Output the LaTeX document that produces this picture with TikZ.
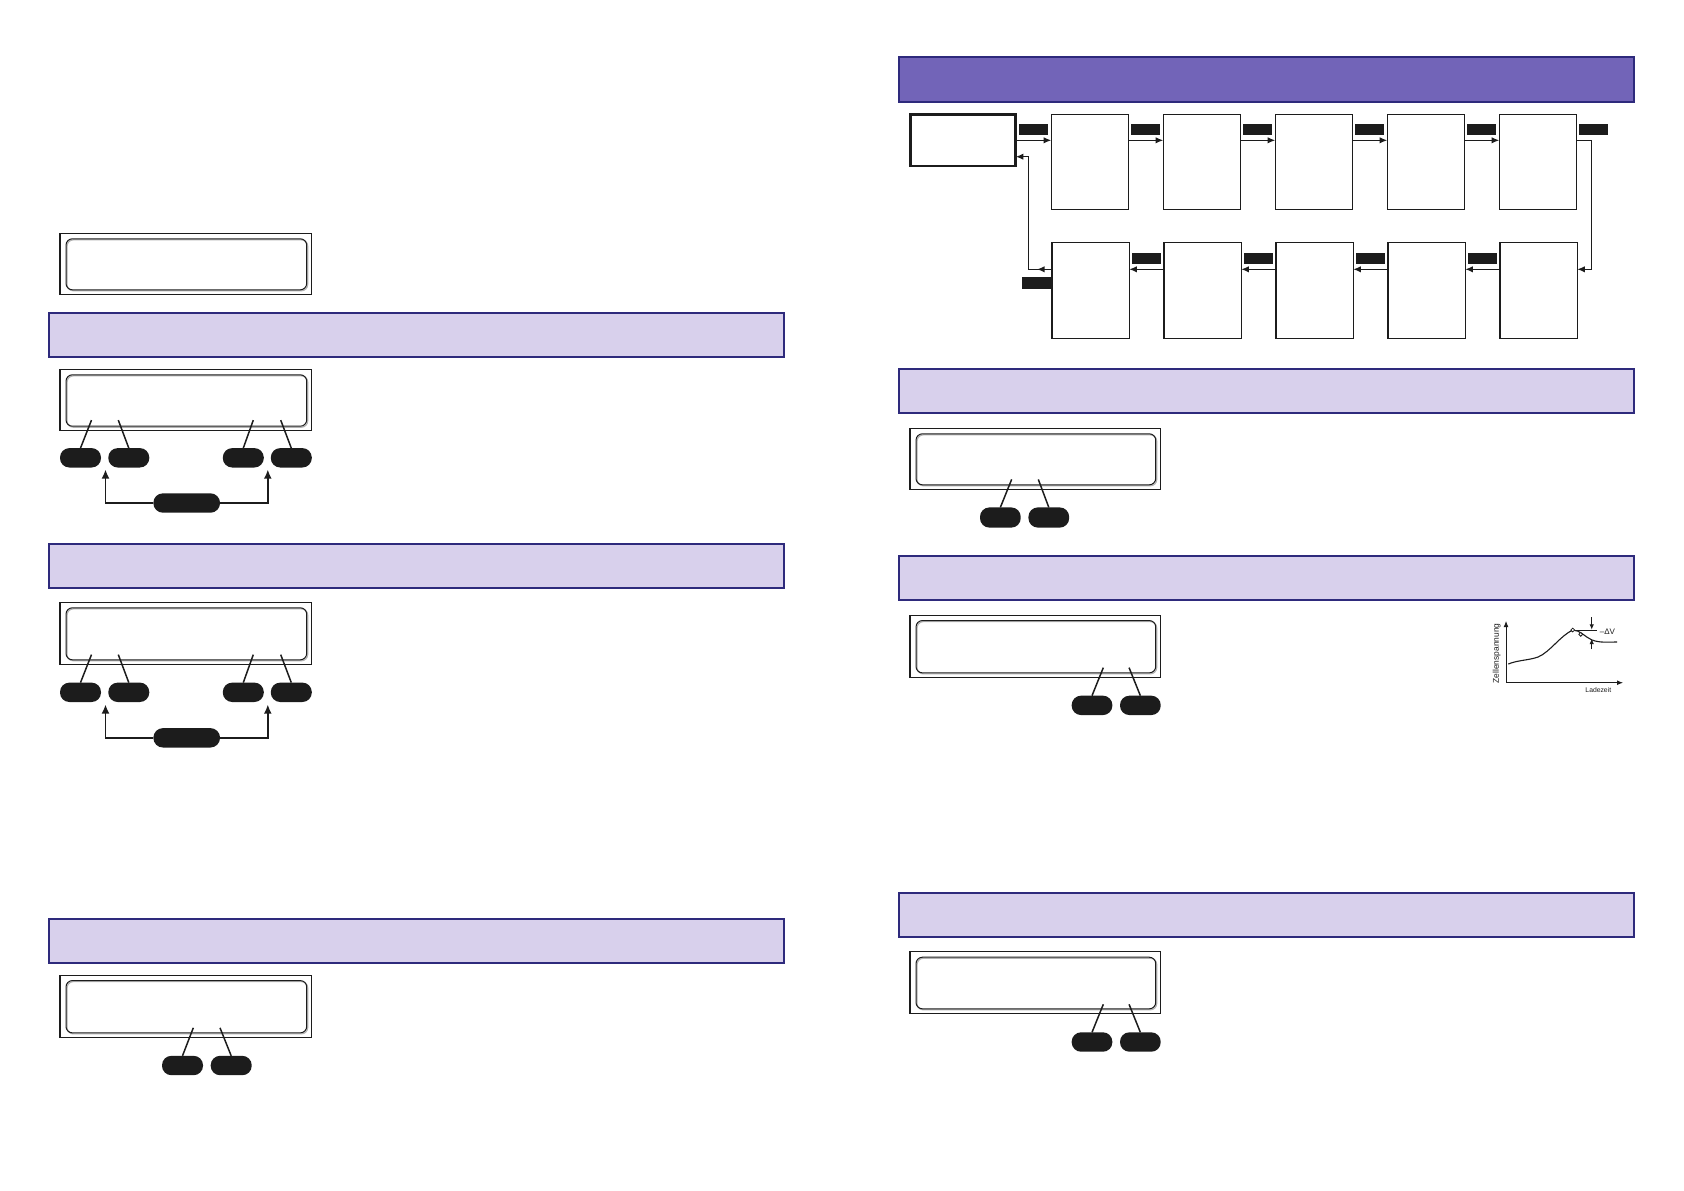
\documentclass[tikz,border=0pt]{standalone}
\usepackage{fontspec}
\setmainfont{Liberation Sans}
\usetikzlibrary{arrows.meta,calc}
\definecolor{navy}{HTML}{2E2A7C}
\definecolor{lav}{HTML}{D8D0EC}
\definecolor{dhdr}{HTML}{7264B8}
\definecolor{ink}{HTML}{1C1C1C}
\newcommand\lcdin[1]{%
  \draw[gray!60,line width=0.6pt,rounded corners=3.2pt] ([shift={(7,6.5)}]#1.north west) rectangle ([shift={(-4,-3.5)}]#1.south east);
  \draw[ink,line width=0.5pt,rounded corners=3.2pt] ([shift={(6,5.5)}]#1.north west) rectangle ([shift={(-5,-4.5)}]#1.south east);}
\begin{document}
\begin{tikzpicture}[x=0.5pt,y=-0.5pt,
  sz/.style 2 args={minimum width={#1*0.5pt},minimum height={#2*0.5pt}},
  hdr/.style={draw=navy,line width=1pt,fill=lav,inner sep=0,outer sep=0},
  dhdrbox/.style={draw=navy,line width=1pt,fill=dhdr,inner sep=0,outer sep=0},
  lcd/.style={draw=ink,line width=0.55pt,fill=white,inner sep=0,outer sep=0},
  pill/.style={fill=ink,rounded corners=4.7pt,inner sep=0,outer sep=0,sz={41}{19.4}},
  widepill/.style={fill=ink,rounded corners=4.8pt,inner sep=0,outer sep=0,sz={66.7}{19.4}},
  flowbox/.style={draw=ink,line width=0.65pt,inner sep=0,outer sep=0},
  startbox/.style={draw=ink,line width=1.3pt,inner sep=0,outer sep=0},
  tag/.style={fill=ink,inner sep=0,outer sep=0,sz={29}{10.7}},
  lead/.style={draw=ink,line width=0.75pt},
  arr/.style={draw=ink,line width=0.7pt,-{Latex[length=3.8pt,width=3.2pt]}},
  bigarr/.style={draw=ink,line width=0.8pt,-{Latex[length=4.6pt,width=4pt]}},
  charttext/.style={inner sep=0,text=ink}
]
\fill[white] (0,0) rectangle (1684,1190);
\useasboundingbox (0,0) rectangle (1684,1190);

% ---------------- left column ----------------
\node[lcd,sz={251.7}{61}] (L0) at (185.85,263.8) {};
\lcdin{L0}

\node[hdr,sz={735}{44}] (H1) at (416.8,335.3) {};
\node[lcd,sz={251.7}{61.4}] (L1) at (185.85,400) {};
\lcdin{L1}
\node[pill] (p1a) at (80.5,457.8) {};
\node[pill] (p1b) at (128.8,457.8) {};
\node[pill] (p1c) at (243.3,457.8) {};
\node[pill] (p1d) at (291.3,457.8) {};
\draw[lead] (p1a.north) -- ++(11,-28);
\draw[lead] (p1b.north) -- ++(-10.5,-28);
\draw[lead] (p1c.north) -- ++(10,-28);
\draw[lead] (p1d.north) -- ++(-10.6,-28);
\node[widepill] (c1) at (186.7,503) {};
\coordinate (c1l) at (105.5,469.5);
\coordinate (c1r) at (267.8,469.5);
\draw[bigarr] (c1.west) -| (c1l);
\draw[bigarr] (c1.east) -| (c1r);

\node[hdr,sz={735}{44.3}] (H2) at (416.8,566.2) {};
\node[lcd,sz={251.7}{62}] (L2) at (185.85,633.3) {};
\lcdin{L2}
\node[pill] (p2a) at (80.5,692.3) {};
\node[pill] (p2b) at (128.8,692.3) {};
\node[pill] (p2c) at (243.3,692.3) {};
\node[pill] (p2d) at (291.3,692.3) {};
\draw[lead] (p2a.north) -- ++(11,-28);
\draw[lead] (p2b.north) -- ++(-10.5,-28);
\draw[lead] (p2c.north) -- ++(10,-28);
\draw[lead] (p2d.north) -- ++(-10.6,-28);
\node[widepill] (c2) at (186.7,737.8) {};
\coordinate (c2l) at (105.5,704.5);
\coordinate (c2r) at (267.8,704.5);
\draw[bigarr] (c2.west) -| (c2l);
\draw[bigarr] (c2.east) -| (c2r);

\node[hdr,sz={735}{44.5}] (H3) at (416.8,940.8) {};
\node[lcd,sz={251.7}{62.3}] (L3) at (185.85,1006.2) {};
\lcdin{L3}
\node[pill] (p3a) at (182.5,1065.5) {};
\node[pill] (p3b) at (231.2,1065.5) {};
\draw[lead] (p3a.north) -- ++(10.8,-28);
\draw[lead] (p3b.north) -- ++(-11.2,-28);

% ---------------- right column ----------------
\node[dhdrbox,sz={734.7}{44.4}] (DH) at (1266.65,79.5) {};

\node[startbox,sz={105}{51.7}] (S) at (963.2,140.15) {};
\foreach \i in {1,...,5}{
  \node[flowbox,sz={77.4}{95}] (T\i) at ({1090+112*(\i-1)},161.8) {};
  \node[flowbox,sz={77.2}{96}] (B\i) at ({1090.6+112*(\i-1)},290.3) {};
}
\node[tag] (ta0) at (1033.3,129.35) {};
\foreach \i in {1,...,5}{
  \node[tag] (ta\i) at ({1145.7+112*(\i-1)},129.35) {};
}
\foreach \i in {1,...,4}{
  \node[tag] (tb\i) at ({1146.3+112*(\i-1)},258.35) {};
}
\node[tag,sz={28.4}{11.4}] (tb0) at (1036.5,283) {};

\coordinate (ya) at (0,140.3);
\coordinate (yb) at (0,269.3);
\draw[arr] (S.east |- ya) -- (T1.west |- ya);
\foreach \i/\j in {1/2,2/3,3/4,4/5}{
  \draw[arr] (T\i.east |- ya) -- (T\j.west |- ya);
}
\coordinate (r1) at (1591.7,140.3);
\coordinate (r2) at (1591.7,269.3);
\draw[arr] (T5.east |- ya) -- (r1) -- (r2) -- (B5.east |- yb);
\foreach \i/\j in {5/4,4/3,3/2,2/1}{
  \draw[arr] (B\i.west |- yb) -- (B\j.east |- yb);
}
\coordinate (f1) at (1028.3,269.3);
\coordinate (f2) at (1028.3,156.7);
\draw[arr] (B1.west |- yb) -- ++(-15,0);
\draw[arr] (B1.west |- yb) -- (f1) -- (f2) -- (S.east |- f2);

% right section 2
\node[hdr,sz={734.7}{44.5}] (RH1) at (1266.65,390.8) {};
\node[lcd,sz={250.7}{61}] (R1) at (1035.35,458.8) {};
\lcdin{R1}
\node[pill,sz={40.7}{20.2}] (q1a) at (1000.35,517.5) {};
\node[pill,sz={40.7}{20.2}] (q1b) at (1048.8,517.5) {};
\draw[lead] (q1a.north) -- ++(11.3,-28);
\draw[lead] (q1b.north) -- ++(-10.5,-28);

% right section 3
\node[hdr,sz={734.7}{44.5}] (RH2) at (1266.65,577.8) {};
\node[lcd,sz={250.7}{62.3}] (R2) at (1035.35,646.2) {};
\lcdin{R2}
\node[pill,sz={40.7}{19.4}] (q2a) at (1092,705.35) {};
\node[pill,sz={40.7}{19.4}] (q2b) at (1140.35,705.35) {};
\draw[lead] (q2a.north) -- ++(11.3,-28);
\draw[lead] (q2b.north) -- ++(-11.3,-28);

% chart
\draw[ink,line width=0.4pt,-{Latex[length=3pt,width=2.4pt]}] (1506,682.7) -- (1506,621);
\draw[ink,line width=0.4pt,-{Latex[length=3pt,width=2.4pt]}] (1506,682.7) -- (1623,682.7);
\draw[ink,line width=0.55pt] (1508.3,664) .. controls (1518,660) and (1528,660.5) .. (1538,657)
  .. controls (1550,652) and (1560,636) .. (1572.7,630)
  .. controls (1580,630) and (1585,637) .. (1592,640)
  .. controls (1600,643) and (1608,642) .. (1617,642);
\draw[ink,line width=0.4pt] (1574.7,630) -- (1597,630);
\draw[ink,line width=0.4pt,-{Latex[length=2.6pt,width=2.2pt]}] (1591.7,617.3) -- (1591.7,629.6);
\draw[ink,line width=0.4pt,-{Latex[length=2.6pt,width=2.2pt]}] (1591.7,649.3) -- (1591.7,638.8);
\draw[ink,line width=0.4pt,fill=white] (1572.7,630) circle (1.9);
\draw[ink,line width=0.4pt,fill=white] (1580.7,634.3) circle (1.9);
\node[charttext,anchor=west,font=\fontsize{4}{5}\selectfont] (dv) at (1599.5,631.5) {–ΔV};
\node[charttext,rotate=90,font=\fontsize{4.2}{5}\selectfont] (zs) at (1496.7,653.5) {Zellenspannung};
\node[charttext,font=\fontsize{3.4}{4}\selectfont] (lz) at (1598.3,690.5) {Ladezeit};

% right section 4
\node[hdr,sz={734.7}{44.6}] (RH3) at (1266.65,915) {};
\node[lcd,sz={250.7}{61.6}] (R3) at (1035.35,982.5) {};
\lcdin{R3}
\node[pill,sz={40.7}{19.4}] (q3a) at (1092,1042) {};
\node[pill,sz={40.7}{19.4}] (q3b) at (1140.35,1042) {};
\draw[lead] (q3a.north) -- ++(11.3,-28);
\draw[lead] (q3b.north) -- ++(-11.3,-28);
\end{tikzpicture}
\end{document}
